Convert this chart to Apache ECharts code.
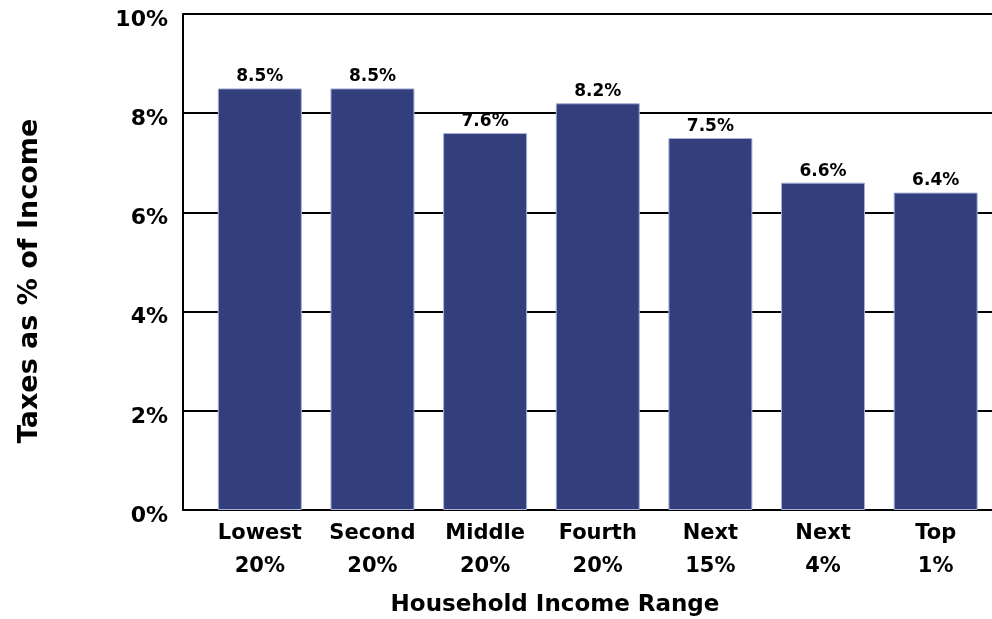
<!DOCTYPE html>
<html>
<head>
<meta charset="utf-8">
<script src="https://cdn.jsdelivr.net/npm/echarts@6/dist/echarts.min.js"></script>
<style>
  html, body { margin: 0; padding: 0; background: #fff; }
  #chart { width: 992px; height: 619px; }
</style>
</head>
<body>
<div id="chart"></div>
<script>
// data
const categories = ["Lowest\n20%", "Second\n20%", "Middle\n20%", "Fourth\n20%", "Next\n15%", "Next\n4%", "Top\n1%"];
const taxShare = [8.5, 8.5, 7.6, 8.2, 7.5, 6.6, 6.4];
const yTicks = [0, 2, 4, 6, 8, 10];

const font = "DejaVu Sans";
let myChart = echarts.init(document.getElementById("chart"));

let option = {
  animation: false,
  // grid 0 carries the frame and gridlines, grid 1 carries the bars
  grid: [
    { left: 183, right: 0, top: 14, bottom: 109 },
    { left: 203.5, width: 791, top: 14, bottom: 109 }
  ],
  xAxis: [
    {
      gridIndex: 0, type: "value", min: 0, max: 1,
      axisLine: { show: true, lineStyle: { color: "#000", width: 2 } },
      axisTick: { show: false }, axisLabel: { show: false }, splitLine: { show: false }
    },
    {
      gridIndex: 1, type: "category", data: categories,
      axisLine: { show: false }, axisTick: { show: false },
      axisLabel: {
        color: "#000", fontFamily: font, fontWeight: "bold", fontSize: 21,
        lineHeight: 33, margin: 7, interval: 0
      }
    }
  ],
  yAxis: [
    {
      gridIndex: 0, type: "value", min: yTicks[0], max: yTicks[yTicks.length - 1], interval: 2,
      axisLine: { show: true, lineStyle: { color: "#000", width: 2 } },
      axisTick: { show: false },
      splitLine: { lineStyle: { color: "#000", width: 2 } },
      axisLabel: {
        color: "#000", fontFamily: font, fontWeight: "bold", fontSize: 22,
        margin: 15, verticalAlign: "top", lineHeight: 12,
        formatter: v => v + "%"
      }
    },
    {
      gridIndex: 1, type: "value", min: 0, max: 10, show: false
    }
  ],
  graphic: [
    {
      type: "text", x: 555, y: 605,
      style: {
        text: "Household Income Range", fill: "#000",
        font: "bold 23px 'DejaVu Sans'", align: "center", verticalAlign: "middle"
      }
    },
    {
      type: "text", x: 30, y: 281, rotation: Math.PI / 2,
      style: {
        text: "Taxes as % of Income", fill: "#000",
        font: "bold 27px 'DejaVu Sans'", align: "center", verticalAlign: "middle"
      }
    }
  ],
  series: [
    {
      type: "bar", xAxisIndex: 1, yAxisIndex: 1,
      data: taxShare, barWidth: 84,
      itemStyle: { color: "#333f7c", borderColor: "#a9b1d8", borderWidth: 1 },
      label: {
        show: true, position: "top", distance: 3,
        color: "#000", fontFamily: font, fontWeight: "bold", fontSize: 17,
        formatter: p => p.value.toFixed(1) + "%"
      }
    }
  ]
};

myChart.setOption(option);
</script>
</body>
</html>
